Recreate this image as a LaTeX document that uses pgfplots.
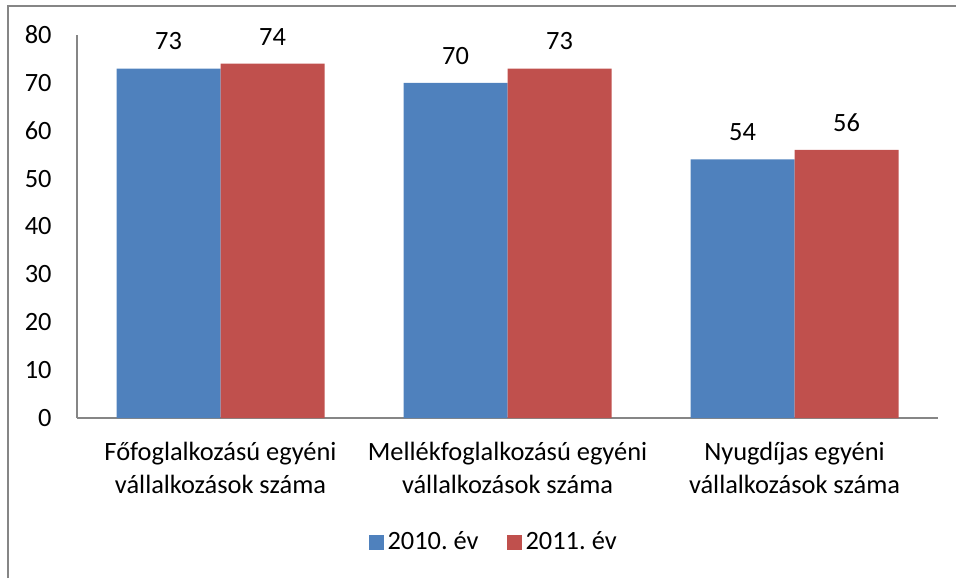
\documentclass[border=0pt]{standalone}
\usepackage{fontspec}
\setmainfont{Carlito}
\usepackage{pgfplots}
\pgfplotsset{compat=1.18}
\definecolor{xblue}{RGB}{79,129,189}
\definecolor{xred}{RGB}{192,80,77}
\definecolor{xgray}{RGB}{134,134,134}
\begin{document}
\frenchspacing
\begin{tikzpicture}
\useasboundingbox (0,0) rectangle (478pt,-289pt);
\draw[xgray, line width=0.8pt] (4pt,-289pt) -- (4pt,-3pt) -- (478pt,-3pt);
\begin{axis}[
  at={(38.5pt,-209pt)}, anchor=south west,
  scale only axis, width=430.5pt, height=191.5pt,
  ymin=0, ymax=80, xmin=-0.5, xmax=2.5,
  ybar=0pt, bar width=52pt,
  axis x line*=bottom, axis y line*=left,
  axis line style={draw=xgray, line width=0.6pt, -},
  major tick length=0pt,
  ytick={0,10,...,80},
  xtick={0,1,2},
  xticklabels={{Főfoglalkozású egyéni\\vállalkozások száma},{Mellékfoglalkozású egyéni\\vállalkozások száma},{Nyugdíjas egyéni\\vállalkozások száma}},
  /pgf/number format/assume math mode=true,
  tick label style={font=\fontsize{13.2}{16.5}\selectfont, inner sep=0pt, text=black},
  yticklabel style={xshift=-12.5pt},
  xticklabel style={align=center, yshift=-12pt},
  nodes near coords,
  every node near coord/.append style={font=\fontsize{13.2}{16}\selectfont, inner sep=0pt, yshift=9pt, text=black},
  legend style={at={(0.485,-0.324)}, anchor=center, draw=none, legend columns=2,
    font=\fontsize{13.2}{16}\selectfont, /tikz/every even column/.append style={column sep=12pt}},
  legend image code/.code={\fill[#1] (0pt,-3.75pt) rectangle (7.5pt,3.75pt);},
]
\addplot[fill=xblue, draw=none] coordinates {(0,73) (1,70) (2,54)};
\addplot[fill=xred, draw=none] coordinates {(0,74) (1,73) (2,56)};
\legend{2010. év, 2011. év}
\end{axis}
\end{tikzpicture}
\end{document}
